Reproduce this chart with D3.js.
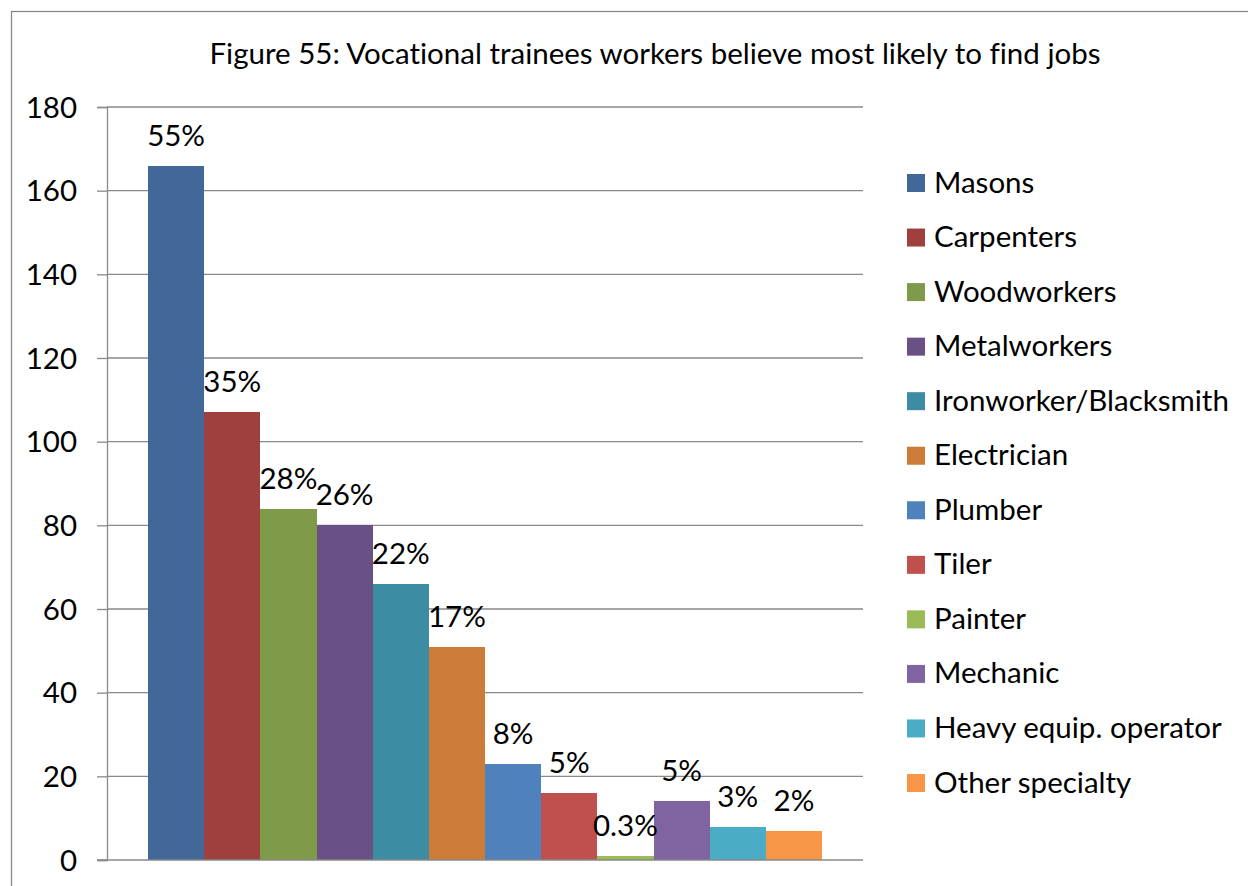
<!DOCTYPE html>
<html>
<head>
<meta charset="utf-8">
<script src="https://cdn.jsdelivr.net/npm/d3@7"></script>
<style>
  html, body { margin: 0; padding: 0; background: #fff; }
  svg { display: block; }
  text { font-family: Lato, "Open Sans", "Noto Sans", sans-serif; fill: #000; font-variant-ligatures: none; }
</style>
</head>
<body>
<script>
// Vocational trainee job outlook by trade
const categories = ["Masons", "Carpenters", "Woodworkers", "Metalworkers", "Ironworker/Blacksmith",
  "Electrician", "Plumber", "Tiler", "Painter", "Mechanic", "Heavy equip. operator", "Other specialty"];
const counts = [166, 107, 84, 80, 66, 51, 23, 16, 1, 14, 8, 7];
const shareLabels = ["55%", "35%", "28%", "26%", "22%", "17%", "8%", "5%", "0.3%", "5%", "3%", "2%"];
const colors = ["#416899", "#9E413E", "#7F9A48", "#695185", "#3C8DA3", "#CC7B38",
  "#4F81BD", "#C0504D", "#9BBB59", "#8064A2", "#4BACC6", "#F79646"];
const yTicks = [0, 20, 40, 60, 80, 100, 120, 140, 160, 180];
const title = "Figure 55: Vocational trainees workers believe most likely to find jobs";

const W = 1248, H = 886;
const plot = { left: 107, right: 863, top: 107, bottom: 860 };
const fontSize = 29.5;
const gridColor = "#898989";

const svg = d3.select("body").append("svg").attr("width", W).attr("height", H);

// chart frame
svg.append("rect")
  .attr("x", 11.5).attr("y", 11.5)
  .attr("width", W + 20).attr("height", H + 20)
  .attr("fill", "#fff").attr("stroke", gridColor).attr("stroke-width", 1.3);

const y = d3.scaleLinear().domain([0, 180]).range([plot.bottom, plot.top]);
const x = d3.scaleBand().domain(categories)
  .range([plot.left + 41, plot.right - 41]).paddingInner(0).paddingOuter(0);

// gridlines
svg.append("g").selectAll("line").data(yTicks.filter(d => d > 0)).join("line")
  .attr("x1", plot.left).attr("x2", plot.right)
  .attr("y1", d => y(d)).attr("y2", d => y(d))
  .attr("stroke", gridColor).attr("stroke-width", 1.3);

// bars
svg.append("g").selectAll("rect").data(categories).join("rect")
  .attr("x", d => x(d))
  .attr("width", x.bandwidth())
  .attr("y", (d, i) => y(counts[i]))
  .attr("height", (d, i) => y(0) - y(counts[i]))
  .attr("fill", (d, i) => colors[i])
  .attr("shape-rendering", "crispEdges");

// baseline
svg.append("line")
  .attr("x1", plot.left - 10).attr("x2", plot.right)
  .attr("y1", y(0)).attr("y2", y(0))
  .attr("stroke", gridColor).attr("stroke-width", 1.3);

// y axis
const yAxis = d3.axisLeft(y).tickValues(yTicks).tickSize(10).tickPadding(20);
const gy = svg.append("g").attr("transform", `translate(${plot.left},0)`).call(yAxis);
gy.select(".domain").attr("stroke", gridColor).attr("stroke-width", 1.3);
gy.selectAll(".tick line").attr("stroke", gridColor).attr("stroke-width", 1.3);
gy.selectAll(".tick text")
  .attr("font-family", null)
  .attr("font-size", fontSize)
  .attr("fill", "#000")
  .attr("dy", "0.34em");

// value labels
svg.append("g").selectAll("text").data(categories).join("text")
  .attr("x", d => x(d) + x.bandwidth() / 2)
  .attr("y", (d, i) => y(counts[i]) - 20)
  .attr("text-anchor", "middle")
  .attr("font-size", fontSize)
  .text((d, i) => shareLabels[i]);

// title
svg.append("text")
  .attr("x", 655).attr("y", 64)
  .attr("text-anchor", "middle")
  .attr("font-size", fontSize)
  .text(title);

// legend
const legendY = d3.scalePoint().domain(categories).range([183, 783]);
const lg = svg.append("g").selectAll("g").data(categories).join("g")
  .attr("transform", d => `translate(907,${legendY(d)})`);
lg.append("rect")
  .attr("x", 0).attr("y", -9).attr("width", 18).attr("height", 18)
  .attr("fill", (d, i) => colors[i]);
lg.append("text")
  .attr("x", 27).attr("y", 9.5)
  .attr("font-size", fontSize)
  .text(d => d);
</script>
</body>
</html>
